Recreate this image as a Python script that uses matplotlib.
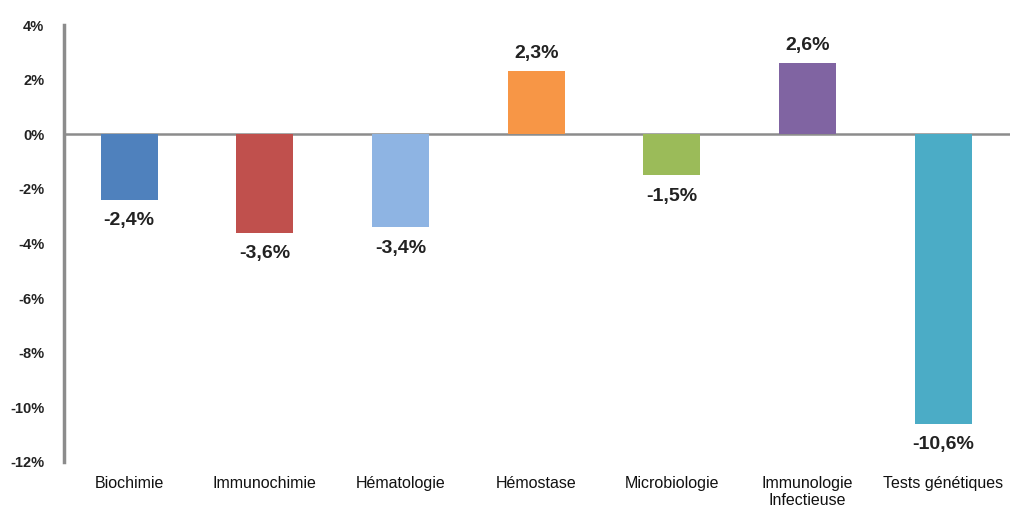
import numpy as np
import matplotlib.pyplot as plt

categories = ['Biochimie', 'Immunochimie', 'Hématologie', 'Hémostase',
              'Microbiologie', 'Immunologie\nInfectieuse', 'Tests génétiques']
values = [-2.4, -3.6, -3.4, 2.3, -1.5, 2.6, -10.6]
colors = ['#4F81BD', '#C0504D', '#8EB4E3', '#F79646', '#9BBB59', '#8064A2', '#4BACC6']
yticks = [4, 2, 0, -2, -4, -6, -8, -10, -12]
ytick_labels = ['4%', '2%', '0%', '-2%', '-4%', '-6%', '-8%', '-10%', '-12%']

plt.rcParams['font.family'] = ['Liberation Sans', 'DejaVu Sans']

fig = plt.figure(figsize=(10.14, 5.11), dpi=100)
ax = fig.add_axes([0.063, 0.096, 0.933, 0.855])

x = np.arange(len(categories))
ax.bar(x, values, width=0.42, color=colors, zorder=2)

ax.set_xlim(-0.48, len(categories) - 0.51)
ax.set_ylim(-12, 4)
ax.set_yticks(yticks)
ax.set_yticklabels(ytick_labels, fontsize=10.5, fontweight='bold', color='#222222')
ax.tick_params(axis='y', length=0, pad=14)
ax.set_xticks(x)
ax.set_xticklabels(categories, fontsize=11.5, color='#111111')
ax.tick_params(axis='x', length=0, pad=10)

for s in ['top', 'right', 'bottom']:
    ax.spines[s].set_visible(False)
ax.spines['left'].set_color('#8c8c8c')
ax.spines['left'].set_linewidth(2.5)
ax.axhline(0, color='#8c8c8c', linewidth=1.8, zorder=1)

for xi, v in zip(x, values):
    label = f'{v:.1f}%'.replace('.', ',')
    if v >= 0:
        ax.annotate(label, (xi, v), xytext=(0, 7), textcoords='offset points',
                    ha='center', va='bottom', fontsize=14, fontweight='bold', color='#222222')
    else:
        ax.annotate(label, (xi, v), xytext=(0, -9), textcoords='offset points',
                    ha='center', va='top', fontsize=14, fontweight='bold', color='#222222')

fig.savefig('out.png', dpi=100)
